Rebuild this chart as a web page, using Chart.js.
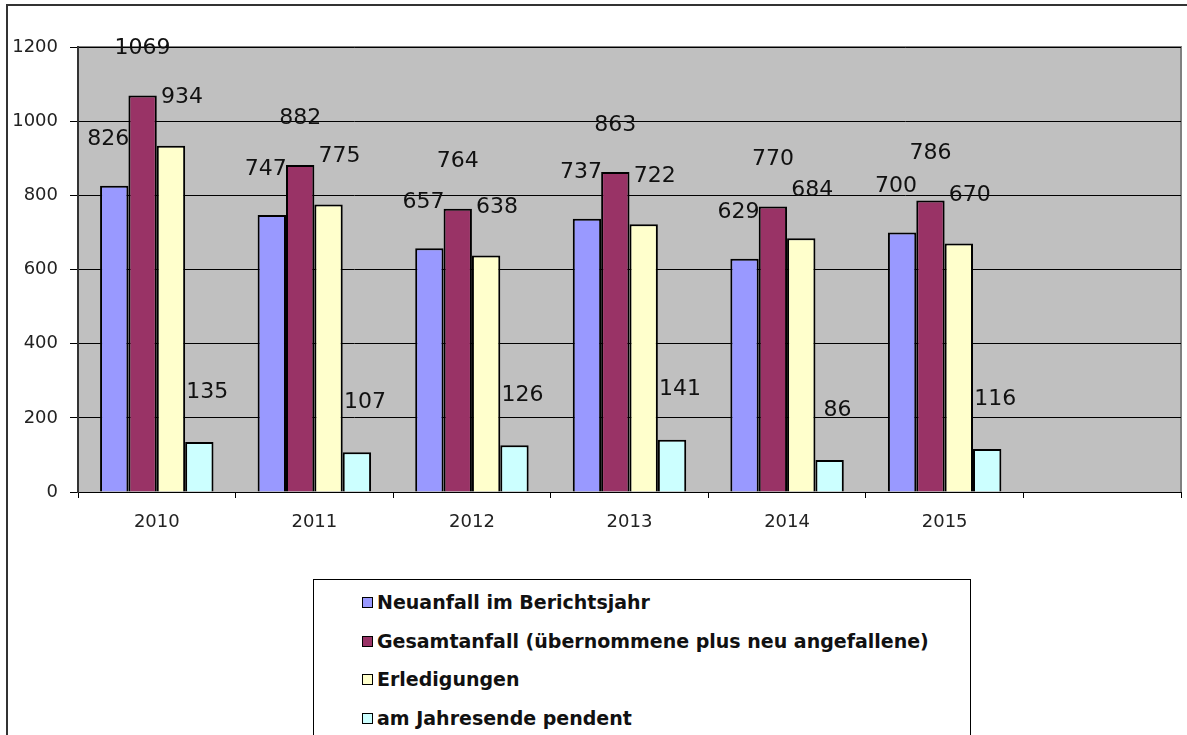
<!DOCTYPE html>
<html>
<head>
<meta charset="utf-8">
<script src="https://cdn.jsdelivr.net/npm/chart.js@4/dist/chart.umd.min.js"></script>
<style>
  html, body { margin: 0; padding: 0; background: #fff; overflow: hidden; }
  #wrap { position: relative; width: 1187px; height: 735px; }
  #frame { position: absolute; left: 6px; top: 4px; width: 1400px; height: 900px; border: 2px solid #333; }
  #chart { position: absolute; left: 0; top: 0; }
  #legend {
    position: absolute; left: 313px; top: 579px; width: 658px; height: 200px;
    border: 1px solid #000; background: #fff;
    font-family: "DejaVu Sans", sans-serif; font-weight: bold; font-size: 19px; color: #111;
    padding-top: 3px; box-sizing: border-box;
  }
  .item { height: 38.5px; line-height: 38.5px; padding-left: 48px; white-space: nowrap; }
  .sw { display: inline-block; width: 9px; height: 9px; border: 1px solid #000; margin-right: 4px; vertical-align: 1px; }
</style>
</head>
<body>
<div id="wrap">
  <div id="frame"></div>
  <canvas id="chart" width="1187" height="735"></canvas>
  <div id="legend"></div>
</div>
<script>
// category axis has one empty slot at the end, like the original sheet
const years = ["2010", "2011", "2012", "2013", "2014", "2015", ""];

const neuanfall    = [826, 747, 657, 737, 629, 700];
const gesamtanfall = [1069, 882, 764, 863, 770, 786];
const erledigungen = [934, 775, 638, 722, 684, 670];
const pendent      = [135, 107, 126, 141, 86, 116];

const yTicks = { min: 0, max: 1200, step: 200 };

// dx/dy = where the value label sits relative to the bar top
const SERIES = [
  { label: "Neuanfall im Berichtsjahr",                        data: neuanfall,    color: "#9999FF", dx: -6, dy: -46 },
  { label: "Gesamtanfall (übernommene plus neu angefallene)",  data: gesamtanfall, color: "#993366", dx: 0,  dy: -47 },
  { label: "Erledigungen",                                     data: erledigungen, color: "#FFFFCC", dx: 11, dy: -48 },
  { label: "am Jahresende pendent",                            data: pendent,      color: "#CCFFFF", dx: 8,  dy: -50 },
];

const FONT = "DejaVu Sans";

// grey plot area with a darker rim on top / right
const plotBackground = {
  id: "plotBackground",
  beforeDraw(chart) {
    const { ctx, chartArea: a } = chart;
    ctx.save();
    ctx.fillStyle = "#C0C0C0";
    ctx.fillRect(a.left, a.top, a.right - a.left, a.bottom - a.top);
    ctx.strokeStyle = "#808080";
    ctx.lineWidth = 2;
    ctx.beginPath();
    ctx.moveTo(a.left, a.top);
    ctx.lineTo(a.right, a.top);
    ctx.lineTo(a.right, a.bottom);
    ctx.stroke();
    ctx.restore();
  }
};

// value labels floating above each bar
const valueLabels = {
  id: "valueLabels",
  afterDatasetsDraw(chart) {
    const ctx = chart.ctx;
    ctx.save();
    ctx.font = "22px '" + FONT + "'";
    ctx.fillStyle = "#111";
    ctx.textAlign = "center";
    ctx.textBaseline = "middle";
    chart.data.datasets.forEach((ds, i) => {
      const meta = chart.getDatasetMeta(i);
      const s = SERIES[i];
      meta.data.forEach((bar, j) => {
        ctx.fillText(String(ds.data[j]), bar.x + s.dx, bar.y + s.dy);
      });
    });
    ctx.restore();
  }
};

const chart = new Chart(document.getElementById("chart"), {
  type: "bar",
  data: {
    labels: years,
    datasets: SERIES.map(s => ({
      label: s.label,
      data: s.data,
      backgroundColor: s.color,
      borderColor: "#000",
      borderWidth: 2,
      categoryPercentage: 0.72,
      barPercentage: 1,
    })),
  },
  options: {
    responsive: false,
    devicePixelRatio: 1,
    animation: false,
    layout: { padding: { left: 0, top: 47, right: 6, bottom: 0 } },
    plugins: {
      legend: { display: false },
      tooltip: { enabled: false },
    },
    scales: {
      x: {
        grid: { drawOnChartArea: false, drawTicks: true, tickLength: 6, color: "#000", offset: true },
        border: { color: "#000", width: 1 },
        ticks: { color: "#222", font: { family: FONT, size: 18 }, padding: 14, maxRotation: 0 },
        afterFit(scale) { scale.height = 735 - 492; },
      },
      y: {
        min: yTicks.min,
        max: yTicks.max,
        ticks: {
          stepSize: yTicks.step, color: "#222", font: { family: FONT, size: 18 }, padding: 12,
          callback: v => String(v),
        },
        grid: { color: "#000", lineWidth: 1, tickLength: 8, drawTicks: true },
        border: { color: "#333", width: 2 },
        afterFit(scale) { scale.width = 78; },
      },
    },
  },
  plugins: [plotBackground, valueLabels],
});

// legend box listed one entry per line
const legend = document.getElementById("legend");
chart.data.datasets.forEach(ds => {
  const row = document.createElement("div");
  row.className = "item";
  const sw = document.createElement("span");
  sw.className = "sw";
  sw.style.background = ds.backgroundColor;
  row.appendChild(sw);
  row.appendChild(document.createTextNode(ds.label));
  legend.appendChild(row);
});
</script>
</body>
</html>
